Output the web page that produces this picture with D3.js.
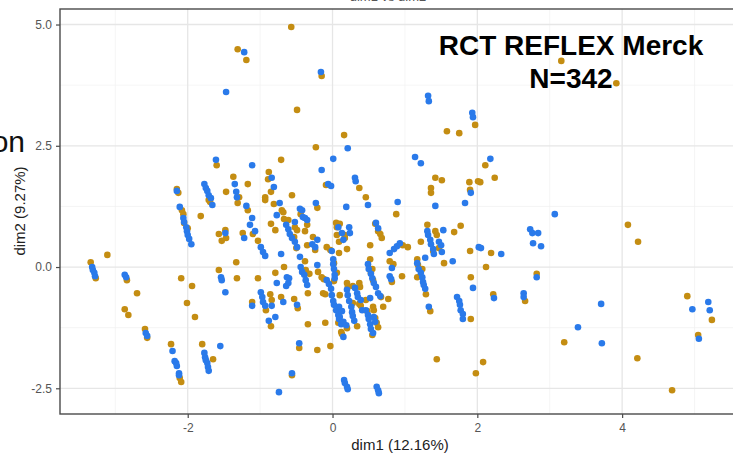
<!DOCTYPE html>
<html>
<head>
<meta charset="utf-8">
<script src="https://cdn.jsdelivr.net/npm/d3@7"></script>
<style>
  body { margin: 0; background: #fff; }
  svg { display: block; font-family: "Liberation Sans", Arial, sans-serif; }
</style>
</head>
<body>
<div id="chart"></div>
<script>
// values: [dim1, dim2]
var goldPts = [
  [-3.34,0.10],[-3.27,-0.23],[-3.11,0.25],[-2.84,-0.27],[-2.70,-0.54],[-2.87,-0.87],[-2.82,-0.99],
  [-2.59,-1.28],[-2.56,-1.46],[-2.23,-1.59],[-2.11,-2.29],[-2.09,-2.37],[-2.01,-0.74],[-1.90,-1.03],
  [-1.80,-1.59],[-1.65,-1.90],[-2.15,1.61],[-2.13,1.53],[-2.08,1.17],[-2.06,1.09],[-2.05,0.91],
  [-2.00,0.80],[-2.09,-0.23],[-1.94,-0.39],[-1.82,1.05],[-1.71,1.38],[-1.69,1.34],[-1.60,2.10],
  [-1.57,0.68],[-1.48,0.76],[-1.53,0.54],[-1.47,0.60],[-1.47,1.55],[-1.37,1.86],[-1.29,1.44],
  [-1.31,1.32],[-1.17,1.71],[-1.17,1.17],[-1.24,0.70],[-1.57,-0.06],[-1.33,0.10],[-1.32,-0.23],
  [-1.31,4.49],[-1.19,4.27],[-0.57,4.95],[-0.15,3.94],[-0.49,3.24],[0.16,2.72],[-0.23,2.47],
  [-0.71,2.21],[-0.88,1.96],[-0.89,1.81],[-0.85,1.55],[-0.93,1.44],[-0.93,1.38],[-0.81,1.30],
  [-0.70,1.17],[-0.68,1.13],[-0.56,1.48],[-0.21,1.22],[-0.67,0.99],[-0.61,0.97],[-0.52,0.82],
  [-0.49,0.76],[-0.53,0.62],[-0.50,0.39],[-0.44,1.09],[-0.38,0.74],[-0.35,0.87],[-0.27,0.62],
  [-0.35,0.45],[-0.24,0.35],[-0.85,0.89],[-0.79,0.76],[-1.10,0.68],[-1.03,0.54],[-0.67,0.00],
  [-0.79,-0.12],[-1.03,-0.23],[-0.53,-0.66],[-0.34,-0.54],[-0.20,-0.10],[-1.11,-0.72],[-0.86,-0.56],
  [-0.84,-0.68],[-0.71,-0.62],[-0.92,-0.89],[-0.85,-1.22],[-0.48,-0.85],[-0.34,-1.18],[-0.46,-1.67],
  [-0.21,-1.71],[-0.10,-1.15],[-0.03,-1.63],[-0.10,-0.56],[0.10,-0.58],[0.08,-1.15],[0.12,-1.34],
  [0.13,-1.38],[0.20,-1.26],[0.34,-1.22],[-0.56,-2.23],[0.37,1.63],[0.46,1.44],[0.88,1.09],
  [-0.09,1.69],[-0.38,0.12],[-0.37,-0.06],[-0.32,-0.14],[0.05,0.91],[0.10,0.89],[0.06,0.82],
  [0.06,0.66],[0.17,0.66],[0.17,0.60],[0.09,0.52],[0.20,0.37],[-0.08,0.41],[-0.03,0.35],
  [0.09,0.29],[0.02,0.08],[0.06,-0.12],[0.02,-0.29],[-0.15,-0.21],[-0.12,-0.25],[-0.13,-0.54],
  [0.20,-0.33],[0.21,-0.41],[0.28,-0.39],[0.37,-0.33],[0.38,-0.41],[0.39,-0.80],[0.28,-0.74],
  [0.37,-0.76],[0.46,-0.68],[0.56,-0.82],[0.57,-0.89],[0.61,-1.15],[0.63,-1.24],[0.55,-1.40],
  [0.70,-0.82],[0.77,-0.66],[0.59,0.89],[0.63,0.74],[0.66,0.68],[0.68,0.60],[0.52,0.45],
  [0.52,0.16],[0.55,-0.04],[0.53,-0.12],[0.56,-0.27],[0.67,-0.62],[0.79,0.12],[0.84,0.06],
  [0.82,-0.31],[0.96,-0.19],[1.04,0.41],[0.97,0.45],[1.31,0.87],[1.42,0.74],[1.44,0.66],
  [1.22,0.52],[1.39,0.33],[1.47,0.39],[1.54,0.08],[1.68,0.72],[1.77,0.85],[1.17,0.16],
  [1.18,0.04],[1.17,-0.21],[1.24,-0.04],[1.29,-0.56],[1.35,-0.91],[1.91,-1.07],[1.91,-0.21],
  [1.90,0.33],[1.42,1.84],[1.51,1.79],[1.36,1.63],[1.36,1.53],[1.89,1.75],[1.90,1.59],
  [2.01,1.77],[1.97,2.93],[1.58,2.80],[1.75,2.76],[2.11,2.10],[2.24,1.84],[2.04,1.75],
  [3.16,4.25],[3.92,3.79],[4.08,0.87],[4.22,0.52],[2.19,0.29],[2.12,0.00],[2.82,-0.14],
  [2.22,-0.56],[2.66,-0.70],[4.90,-0.60],[5.24,-1.09],[5.05,-1.40],[3.20,-1.55],[2.08,-1.96],
  [4.21,-1.88],[4.69,-2.54],[1.44,-1.90],[1.98,-2.19],[0.48,-0.91],[0.59,-1.05]
];

var bluePts = [
  [-3.32,0.00],[-3.31,-0.06],[-3.29,-0.12],[-3.28,-0.19],[-2.87,-0.16],[-2.85,-0.21],[-2.58,-1.36],
  [-2.56,-1.42],[-2.21,-1.73],[-2.18,-1.94],[-2.16,-1.98],[-2.15,-2.04],[-2.12,-2.19],[-2.12,-2.23],
  [-1.77,-1.77],[-1.76,-1.86],[-1.75,-1.92],[-1.73,-1.98],[-1.72,-2.06],[-1.71,-2.14],[-1.55,-1.63],
  [-1.48,-0.52],[-2.15,1.57],[-2.11,1.24],[-2.06,1.01],[-2.05,0.93],[-2.02,0.82],[-2.01,0.74],
  [-2.00,0.66],[-1.98,0.58],[-1.95,0.47],[-1.77,1.71],[-1.75,1.63],[-1.73,1.57],[-1.71,1.48],
  [-1.68,1.42],[-1.66,1.28],[-1.61,2.21],[-1.47,3.61],[-1.22,4.43],[-1.48,0.70],[-1.54,-0.21],
  [-1.53,-0.27],[-1.35,1.71],[-1.33,1.55],[-1.32,1.44],[-1.19,1.26],[-1.14,0.87],[-1.11,1.01],
  [-1.07,0.74],[-1.22,0.60],[-0.99,0.41],[-0.96,0.31],[-0.93,0.23],[-1.11,2.10],[-0.84,1.84],
  [-0.81,1.65],[-0.73,1.32],[-0.77,1.07],[-0.64,0.87],[-0.61,0.78],[-0.59,0.68],[-0.56,0.60],
  [-0.52,0.52],[-0.49,0.41],[-0.52,0.93],[-0.42,1.17],[-0.38,1.01],[-0.35,0.97],[-0.28,0.47],
  [-0.24,0.41],[-0.21,0.56],[-0.23,1.32],[-0.16,4.02],[0.01,2.23],[0.21,2.45],[-0.71,0.27],
  [-0.77,-0.33],[-0.63,-0.21],[-0.60,-0.23],[-0.64,-0.39],[-0.61,-0.33],[-0.45,0.21],[-0.44,0.00],
  [-0.42,-0.10],[-0.39,-0.16],[-0.37,-0.27],[-0.35,-0.37],[-0.21,0.04],[-0.99,-0.52],[-0.97,-0.62],
  [-0.96,-0.72],[-0.93,-0.80],[-1.11,-0.80],[-0.84,-0.80],[-0.68,-0.72],[-0.49,-0.78],[-0.79,-1.03],
  [-0.88,-1.11],[-0.46,-1.57],[-0.56,-2.19],[-0.74,-2.58],[-0.15,2.00],[0.31,1.84],[0.32,1.77],
  [-0.06,1.71],[-0.02,1.67],[0.49,1.28],[0.19,1.24],[0.90,1.34],[1.42,1.26],[1.83,1.32],
  [1.91,1.53],[-0.45,1.20],[-0.41,1.03],[0.08,0.82],[0.13,0.70],[0.15,0.56],[0.24,0.70],
  [0.23,0.82],[-0.01,0.33],[0.01,0.16],[0.01,0.06],[0.02,-0.04],[0.03,-0.16],[0.03,-0.23],
  [-0.08,-0.27],[-0.05,-0.35],[-0.02,-0.45],[-0.01,-0.58],[0.01,-0.70],[0.02,-0.78],[0.05,-0.89],
  [0.08,-0.99],[0.09,-1.07],[0.12,-1.18],[0.15,-1.44],[0.20,-0.47],[0.21,-0.58],[0.23,-0.70],
  [0.26,-0.82],[0.27,-0.93],[0.28,-1.01],[0.30,-1.11],[0.31,-0.43],[0.34,-0.54],[0.35,-0.62],
  [0.39,-0.68],[0.41,-0.89],[0.09,-0.82],[0.13,-0.91],[0.10,-1.03],[0.15,-1.13],[0.19,-1.20],
  [0.46,-0.89],[0.49,-0.99],[0.50,-1.07],[0.52,-1.18],[0.53,-1.28],[0.56,-1.36],[0.57,-1.03],
  [0.59,-1.13],[0.52,-0.64],[0.60,0.91],[0.63,0.80],[0.49,0.06],[0.50,-0.04],[0.53,-0.14],
  [0.55,-0.23],[0.57,-0.33],[0.60,-0.41],[0.63,-0.54],[0.66,-0.60],[0.79,0.29],[0.85,0.37],
  [0.89,0.43],[0.93,0.49],[0.82,-0.02],[0.79,-0.19],[0.81,-0.25],[1.31,0.74],[1.32,0.66],
  [1.35,0.56],[1.36,0.47],[1.39,0.37],[1.40,0.27],[1.53,0.76],[1.47,0.52],[1.50,0.45],
  [1.51,0.31],[1.28,0.19],[1.17,0.08],[1.19,-0.04],[1.22,-0.12],[1.24,-0.21],[1.25,-0.31],
  [1.26,-0.37],[1.28,-0.45],[1.66,0.12],[1.72,-0.62],[1.75,-0.70],[1.76,-0.78],[1.77,-0.89],
  [1.80,-0.97],[1.80,-1.07],[1.33,-0.82],[1.94,-0.43],[2.02,0.41],[0.16,-2.33],[0.17,-2.39],
  [0.20,-2.47],[0.21,-2.52],[0.61,-2.47],[0.63,-2.54],[0.64,-2.60],[1.32,3.53],[1.33,3.42],
  [1.93,3.18],[1.94,3.09],[1.14,2.27],[1.22,2.14],[2.18,2.23],[3.07,1.09],[2.73,0.78],
  [2.76,0.70],[2.84,0.70],[2.77,0.49],[2.88,0.43],[2.05,0.39],[2.33,0.27],[2.82,-0.21],
  [2.23,-0.64],[2.64,-0.54],[2.64,-0.62],[3.71,-0.76],[3.39,-1.24],[3.72,-1.57],[5.19,-0.72],
  [4.97,-0.87],[5.21,-0.89],[5.06,-1.48]
];

var xTicks = [-2, 0, 2, 4];
var yTicks = [-2.5, 0, 2.5, 5];
var xMinor = [-3, -1, 1, 3, 5];
var yMinor = [-1.25, 1.25, 3.75];
var xTitle = "dim1 (12.16%)";
var yTitle = "dim2 (9.27%)";
var titleLines = ["RCT REFLEX Merck", "N=342"];

var width = 733, height = 455;
// panel runs past the right edge of the picture (cropped screenshot)
var panel = {left: 60, right: 740, top: 9, bottom: 414};

var svg = d3.select("#chart")
  .append("svg")
    .attr("width", width)
    .attr("height", height);

var x = d3.scaleLinear()
  .domain([-3.764, 5.628])
  .range([panel.left, panel.right]);

var y = d3.scaleLinear()
  .domain([-3.03, 5.32])
  .range([panel.bottom, panel.top]);

// cut off plot title above the panel (as in the screenshot)
svg.append("text")
  .attr("x", 388)
  .attr("y", 1)
  .attr("text-anchor", "middle")
  .attr("fill", "#555")
  .style("font-size", "13px")
  .text("dim1 vs dim2");

// cut off word on the left (as in the screenshot)
svg.append("text")
  .attr("x", 25)
  .attr("y", 152)
  .attr("text-anchor", "end")
  .attr("fill", "#111")
  .style("font-size", "30px")
  .text("on");

// grid
var grid = svg.append("g");
grid.selectAll(".vminor").data(xMinor).enter().append("line")
  .attr("x1", function(d) { return x(d); }).attr("x2", function(d) { return x(d); })
  .attr("y1", panel.top).attr("y2", panel.bottom)
  .attr("stroke", "#f0f0f0").attr("stroke-width", 0.7);
grid.selectAll(".hminor").data(yMinor).enter().append("line")
  .attr("y1", function(d) { return y(d); }).attr("y2", function(d) { return y(d); })
  .attr("x1", panel.left).attr("x2", panel.right)
  .attr("stroke", "#f0f0f0").attr("stroke-width", 0.7);
grid.selectAll(".vmajor").data(xTicks).enter().append("line")
  .attr("x1", function(d) { return x(d); }).attr("x2", function(d) { return x(d); })
  .attr("y1", panel.top).attr("y2", panel.bottom)
  .attr("stroke", "#e6e6e6").attr("stroke-width", 1.3);
grid.selectAll(".hmajor").data(yTicks).enter().append("line")
  .attr("y1", function(d) { return y(d); }).attr("y2", function(d) { return y(d); })
  .attr("x1", panel.left).attr("x2", panel.right)
  .attr("stroke", "#e6e6e6").attr("stroke-width", 1.3);

// points
svg.append("g").selectAll("circle")
  .data(goldPts)
  .enter().append("circle")
    .attr("cx", function(d) { return x(d[0]); })
    .attr("cy", function(d) { return y(d[1]); })
    .attr("r", 3.3)
    .attr("fill", "#c48d12");

svg.append("g").selectAll("circle")
  .data(bluePts)
  .enter().append("circle")
    .attr("cx", function(d) { return x(d[0]); })
    .attr("cy", function(d) { return y(d[1]); })
    .attr("r", 3.3)
    .attr("fill", "#2a7aea");

// panel border
svg.append("rect")
  .attr("x", panel.left).attr("y", panel.top)
  .attr("width", panel.right - panel.left).attr("height", panel.bottom - panel.top)
  .attr("fill", "none").attr("stroke", "#4a4a4a").attr("stroke-width", 1.4);

// axes
var xAxis = svg.append("g")
  .attr("transform", "translate(0," + panel.bottom + ")")
  .call(d3.axisBottom(x).tickValues(xTicks).tickSize(4).tickPadding(5)
    .tickFormat(d3.format("d")));
var yAxis = svg.append("g")
  .attr("transform", "translate(" + panel.left + ",0)")
  .call(d3.axisLeft(y).tickValues(yTicks).tickSize(4).tickPadding(4)
    .tickFormat(d3.format(".1f")));

[xAxis, yAxis].forEach(function(a) {
  a.select(".domain").remove();
  a.selectAll(".tick line").attr("stroke", "#4a4a4a").attr("stroke-width", 1.2);
  a.selectAll(".tick text")
    .attr("fill", "#555")
    .style("font-size", "12px")
    .style("font-family", "'Liberation Sans', Arial, sans-serif");
});
// ggplot style minus sign
xAxis.selectAll(".tick text").text(function(d) { return d < 0 ? "-" + Math.abs(d) : d; });
yAxis.selectAll(".tick text").text(function(d) { return d < 0 ? "-" + Math.abs(d).toFixed(1) : d.toFixed(1); });

// axis titles
svg.append("text")
  .attr("x", 400)
  .attr("y", 450)
  .attr("text-anchor", "middle")
  .attr("fill", "#222")
  .style("font-size", "15px")
  .text(xTitle);

svg.append("text")
  .attr("transform", "rotate(-90)")
  .attr("x", -211)
  .attr("y", 25)
  .attr("text-anchor", "middle")
  .attr("fill", "#222")
  .style("font-size", "15px")
  .text(yTitle);

// annotation
svg.append("g").selectAll("text")
  .data(titleLines)
  .enter().append("text")
    .attr("x", 571)
    .attr("y", function(d, i) { return 55 + i * 33; })
    .attr("text-anchor", "middle")
    .attr("fill", "#000")
    .style("font-size", "28px")
    .style("font-weight", "bold")
    .text(function(d) { return d; });
</script>
</body>
</html>
